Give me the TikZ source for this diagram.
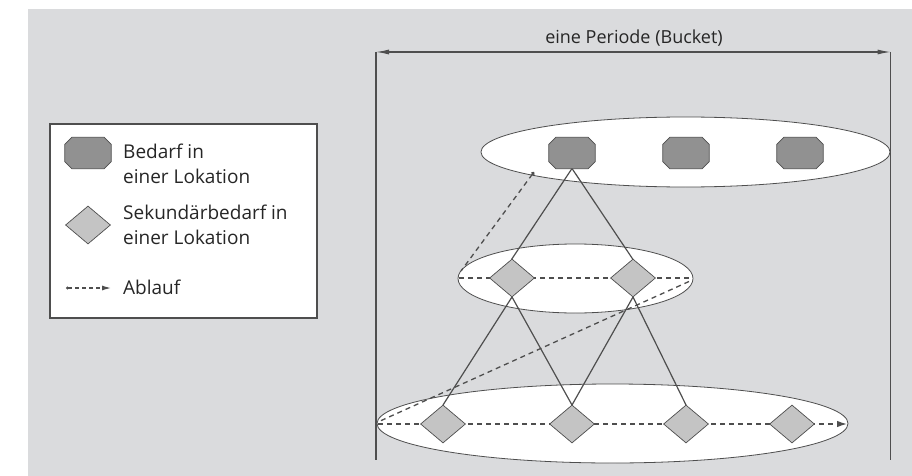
\documentclass[tikz,border=0pt]{standalone}
\usepackage{fontspec}
\setmainfont{Open Sans}
\usetikzlibrary{shapes.geometric,arrows.meta}
\definecolor{bg}{RGB}{218,219,221}
\definecolor{ln}{RGB}{78,78,78}
\definecolor{octfill}{RGB}{145,145,145}
\definecolor{diafill}{RGB}{196,196,196}
\tikzset{
  oct/.style={rectangle, minimum width=46pt, minimum height=31pt, inner sep=0pt,
    append after command={\pgfextra{\filldraw[fill=octfill, draw=ln, line width=0.7pt]
      ([xshift=7pt]\tikzlastnode.north west) -- ([xshift=-7pt]\tikzlastnode.north east) --
      ([yshift=-7pt]\tikzlastnode.north east) -- ([yshift=7pt]\tikzlastnode.south east) --
      ([xshift=-7pt]\tikzlastnode.south east) -- ([xshift=7pt]\tikzlastnode.south west) --
      ([yshift=7pt]\tikzlastnode.south west) -- ([yshift=-7pt]\tikzlastnode.north west) -- cycle;}}},
  dia/.style={diamond, draw=ln, line width=0.7pt, fill=diafill, minimum width=45pt, minimum height=38pt, inner sep=0pt},
  ell/.style={ellipse, draw=ln, line width=0.8pt, fill=white, inner sep=0pt},
  conn/.style={draw=ln, line width=1.2pt},
  flow/.style={draw=ln, line width=1.3pt, dash pattern=on 5pt off 4pt},
  txt/.style={font=\fontsize{19}{22}\selectfont, text=black!85, inner sep=0pt, anchor=base west},
}
\begin{document}
\begin{tikzpicture}[x=1pt,y=-1pt]
\useasboundingbox (0,0) rectangle (912,476);
\fill[bg] (28,9) rectangle (912,476);

% period
\coordinate (pl) at (376,52);
\coordinate (pr) at (890.5,52);
\coordinate (plb) at (376,460);
\coordinate (prb) at (890.5,460);
\draw[ln, line width=1.3pt] (pl) -- (plb);
\draw[ln, line width=1.3pt] (pr) -- (prb);
\draw[ln, line width=1.1pt, {Latex[length=13pt,width=5pt]}-{Latex[length=13pt,width=5pt]}] (pl) -- (pr);
\node[font=\fontsize{18}{20}\selectfont, text=black!85, inner sep=0pt, anchor=base] (ptitle) at (634,44) {eine Periode (Bucket)};

% ellipses
\node[ell, minimum width=409pt, minimum height=70pt] (etop) at (685.5,152) {};
\node[ell, minimum width=235pt, minimum height=69pt] (emid) at (575.5,278.5) {};
\node[ell, minimum width=471pt, minimum height=79pt] (ebot) at (612.5,423.5) {};

% connectors (behind shapes)
\coordinate (o1s) at (572,168.5);
\draw[conn] (o1s) -- (511.5,259.5);
\draw[conn] (o1s) -- (633,259.5);
\draw[conn] (512,297) -- (443,405);
\draw[conn] (512,297) -- (572,405);
\draw[conn] (633,297) -- (572,405);
\draw[conn] (633,297) -- (686,405);

% flow
\coordinate (f0) at (534,172);
\coordinate (f1) at (461,271);
\coordinate (f2) at (459,278);
\coordinate (f3) at (691,278);
\coordinate (f4) at (689,281.5);
\coordinate (f5) at (379,421.5);
\coordinate (f6) at (378,424);
\coordinate (f7) at (847,424);
\draw[flow, {Circle[length=3.5pt]}-] (f0) -- (f1);
\draw[flow] (f2) -- (f3);
\draw[flow] (f4) -- (f5);
\draw[flow, -{Latex[length=10pt,width=6.5pt]}] (f6) -- (f7);

% shapes
\node[oct] (o1) at (572,153) {};
\node[oct] (o2) at (686,153) {};
\node[oct] (o3) at (800,153) {};
\node[dia] (m1) at (512,278) {};
\node[dia] (m2) at (633,278) {};
\node[dia] (b1) at (443,424) {};
\node[dia] (b2) at (572,424) {};
\node[dia] (b3) at (686,424) {};
\node[dia] (b4) at (792,424) {};

% legend
\node[draw=ln, line width=1.1pt, fill=white, minimum width=267pt, minimum height=194pt, inner sep=0pt] (legend) at (183.5,221) {};
\node[oct] (lo) at (88,153) {};
\node[dia] (ld) at (88,225) {};
\node[txt] (l1a) at (123,158) {Bedarf in};
\node[txt] (l1b) at (123,183) {einer Lokation};
\node[txt] (l2a) at (123,219) {Sekundärbedarf in};
\node[txt] (l2b) at (123,244) {einer Lokation};
\node[txt] (l3) at (123,294) {Ablauf};
\coordinate (la) at (66,288);
\coordinate (lb) at (111,288);
\draw[flow, line width=1.1pt, dash pattern=on 4pt off 3pt, {Circle[length=3pt]}-{Latex[length=9pt,width=5pt]}] (la) -- (lb);
\end{tikzpicture}
\end{document}
